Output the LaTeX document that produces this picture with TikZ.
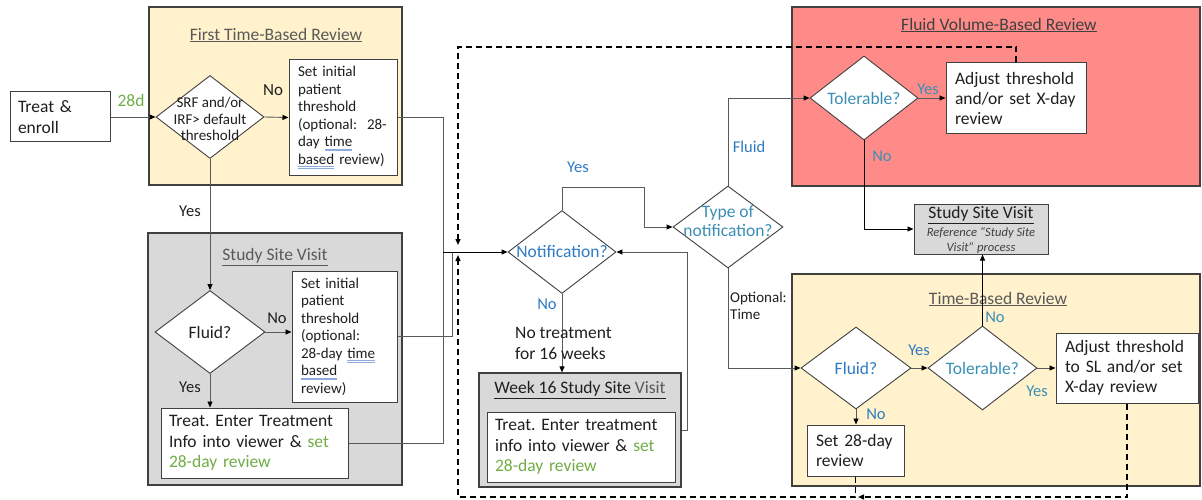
\documentclass[tikz,border=0pt]{standalone}
\usepackage{fontspec}
\setmainfont{Carlito}
\frenchspacing
\usetikzlibrary{shapes.geometric,arrows.meta,calc}
\definecolor{pyel}{HTML}{FFF2CC}
\definecolor{pred}{HTML}{FF8B88}
\definecolor{pgray}{HTML}{D9D9D9}
\definecolor{ttlc}{HTML}{595959}
\definecolor{bord}{HTML}{404040}
\definecolor{grn}{HTML}{70AD47}
\definecolor{blu}{HTML}{2E7BC4}
\definecolor{tealc}{HTML}{3A8FB5}
\definecolor{txt}{HTML}{1F1F1F}
\definecolor{ulb}{HTML}{8FAADC}
\definecolor{lc}{HTML}{5A5A5A}
\newcommand\fsz[2]{\fontsize{#1pt}{#2pt}\selectfont}
\newcommand\sq[1]{\leavevmode\setbox0\hbox{#1}\rlap{\color{ulb}\rule[-2.5pt]{\wd0}{0.5pt}}\rlap{\color{ulb}\rule[-4pt]{\wd0}{0.5pt}}\box0\relax}
\begin{document}
\begin{tikzpicture}[x=1pt,y=-1pt,
  panel/.style={draw=bord, line width=1.2pt, rectangle, inner sep=0pt},
  box/.style={draw=bord, fill=white, line width=1pt, rectangle, inner sep=0pt, text=txt},
  dia/.style={diamond, draw=bord, fill=white, line width=0.9pt, inner sep=0pt},
  con/.style={draw=lc, line width=0.9pt},
  arr/.style={con, -{Triangle[length=6pt,width=5pt,color=black]}},
  dsh/.style={draw=black, line width=1.4pt, dash pattern=on 6pt off 4pt},
  dsharr/.style={dsh, -{Triangle[length=6pt,width=5pt]}},
  ttl/.style={font=\fsz{17.5}{20}, text=ttlc, inner sep=0pt},
  lbl/.style={font=\fsz{16.5}{19}, inner sep=0pt, text=txt},
  body/.style={font=\fsz{17.5}{20.3}},
  dtxt/.style={font=\fsz{17.5}{19}, align=center, inner sep=0pt},
]
\useasboundingbox (0,0) rectangle (1202,500);
% panels
\node[panel, fill=pyel, minimum width=253pt, minimum height=178pt] (p1) at (275.5,96) {};
\node[panel, fill=pgray, minimum width=254pt, minimum height=252pt] (p2) at (275,359) {};
\node[panel, fill=pgray, minimum width=202pt, minimum height=114pt] (p3) at (580,430) {};
\node[panel, fill=pred, minimum width=408pt, minimum height=179pt] (p4) at (996,96.5) {};
\node[panel, fill=pyel, minimum width=408pt, minimum height=212pt] (p5) at (996,380) {};
% titles
\node[ttl] (t1) at (276,35) {\underline{First Time-Based Review}};
\node[ttl] (t2) at (275,257) {\underline{Study Site Visit}};
\node[ttl, text=txt] (t3) at (580,390) {\underline{Week 16 Study Site {\color{ttlc}Visit}}};
\node[ttl, text=bord] (t4) at (999,25) {\underline{Fluid Volume-Based Review}};
\node[ttl] (t5) at (998,299) {\underline{Time-Based Review}};
% boxes
\node[box, body, minimum width=100pt, minimum height=50pt, text width=84pt, align=left] (treat) at (60,117) {Treat \&\\enroll};
\node[box, minimum width=108pt, minimum height=115pt, text width=90pt, align=left, font=\fsz{15}{17.5}] (b1) at (343,117.5) {Set initial\\patient\\threshold\\(optional:\ \ 28-\\day \sq{time}\\\sq{based} review)};
\node[box, minimum width=105pt, minimum height=131pt, text width=87pt, align=left, font=\fsz{15}{17.5}] (b2) at (344.5,336.5) {Set initial\\patient\\threshold\\(optional:\\28-day \sq{time}\\\sq{based}\\review)};
\node[box, body, minimum width=187pt, minimum height=70pt, text width=171pt, align=left] (b3) at (254.5,443) {Treat. Enter Treatment\\Info into viewer \& {\color{grn}set}\\{\color{grn}28-day review}};
\node[box, body, minimum width=188pt, minimum height=70pt, text width=172pt, align=left] (b4) at (581,447) {Treat. Enter treatment\\info into viewer \& {\color{grn}set}\\{\color{grn}28-day review}};
\node[box, body, minimum width=140pt, minimum height=71pt, text width=122pt, align=left] (b5) at (1016,98.5) {Adjust threshold\\and/or set X-day\\review};
\node[box, body, minimum width=142pt, minimum height=70pt, text width=124pt, align=left] (b6) at (1127,368) {Adjust threshold\\to SL and/or set\\X-day review};
\node[box, body, minimum width=97pt, minimum height=51pt, text width=79pt, align=left] (b7) at (855.5,450.5) {Set 28-day\\review};
\node[box, fill=pgray, minimum width=134pt, minimum height=50pt] (ssv) at (981,229) {};
\node[lbl, font=\fsz{17.5}{20}, text=txt] (ssvt) at (981,215) {\underline{Study Site Visit}};
\node[lbl, font=\fsz{12.6}{15}\itshape, text=bord, align=center] (ssvs) at (981,240) {Reference “Study Site\\Visit” process};
% diamonds
\node[dia, minimum width=108pt, minimum height=83pt] (d1) at (210,117) {};
\node[dtxt, font=\fsz{15}{16.5}, text=txt] (d1t) at (210,119) {SRF and/or\\IRF> default\\threshold};
\node[dia, minimum width=110pt, minimum height=83pt] (d2) at (210,332) {};
\node[dtxt, text=txt] (d2t) at (210,332) {Fluid?};
\node[dia, minimum width=108pt, minimum height=83pt] (dn) at (562,252) {};
\node[dtxt, text=blu] (dnt) at (562,252) {Notification?};
\node[dia, minimum width=110pt, minimum height=82pt] (dt) at (728,227) {};
\node[dtxt, text=tealc] (dtt) at (728,221.5) {Type of\\notification?};
\node[dia, minimum width=108pt, minimum height=84pt] (dtol1) at (864,98) {};
\node[dtxt, text=tealc] (dtol1t) at (864,98) {Tolerable?};
\node[dia, minimum width=110pt, minimum height=82pt] (dfl) at (856,368) {};
\node[dtxt, text=blu] (dflt) at (856,368) {Fluid?};
\node[dia, minimum width=109pt, minimum height=84pt] (dtol2) at (982.5,368) {};
\node[dtxt, text=tealc] (dtol2t) at (982.5,368) {Tolerable?};
% junction coordinates
\coordinate (j) at (443,252);
\coordinate (j2) at (452,252);
\coordinate (ya) at (562,187);
\coordinate (yb) at (644,187);
\coordinate (dtop) at (458,47);
\coordinate (dtip1) at (458,245);
\coordinate (dbot) at (458,497);
\coordinate (dtip2) at (458,255);
\coordinate (dmid) at (858,497);
% connectors
\draw[arr] (treat.east) -- (d1.west);
\draw[arr] (d1.east) -- (b1.west);
\draw[arr] (d1.south) -- (d2.north);
\draw[arr] (d2.east) -- (d2.east -| b2.west);
\draw[arr] (d2.south) -- (b3.north -| d2.south);
\draw[con] (b1.east) -| (j);
\draw[con] (b2.east) -| (j2);
\draw[con] (b3.east) -| (j);
\draw[arr, draw=black] (j) -- (dn.west);
\draw[arr] (dn.north) -- (ya) -- (yb) |- (dt.west);
\draw[arr] (dn.south) -- (dn.south |- p3.north);
\draw[arr] (p3.east) -- ++(6,0) |- (dn.east);
\draw[arr] (dt.north) |- (dtol1.west);
\draw[arr] (dt.south) |- (dfl.west);
\draw[arr] (dtol1.east) -- (dtol1.east -| b5.west);
\draw[arr, draw=black] (dtol1.south) |- (ssv.west);
\draw[arr] (dfl.east) -- (dtol2.west);
\draw[arr] (dtol2.east) -- (b6.west);
\draw[arr, draw=black] (dtol2.north) -- (dtol2.north |- ssv.south);
\draw[arr] (dfl.south) -- (dfl.south |- b7.north);
% dashed feedback
\draw[dsharr] (b5.north) |- (dtop) -- (dtip1);
\draw[dsharr] (b6.south) |- (dmid);
\draw[dsharr] (b7.south) |- (dbot) -- (dtip2);
% labels
\node[lbl, font=\fsz{17.5}{20}, text=grn] (l28) at (131,100) {28d};
\node[lbl, font=\fsz{17}{19}] (ln1) at (273,90) {No};
\node[lbl] (ly1) at (190,211) {Yes};
\node[lbl] (ln2) at (277,318) {No};
\node[lbl] (ly2) at (190,387) {Yes};
\node[lbl, text=blu] (ly3) at (578,167) {Yes};
\node[lbl, text=blu] (ln3) at (547,304) {No};
\node[lbl, body, align=left, anchor=west] (lnt) at (515,343.5) {No treatment\\for 16 weeks};
\node[lbl, text=blu] (lfl) at (749,147) {Fluid};
\node[lbl, font=\fsz{15}{17.5}, align=left, anchor=west] (lopt) at (730,306) {Optional:\\Time};
\node[lbl, text=tealc] (ly4) at (928,89) {Yes};
\node[lbl, text=tealc] (ln4) at (882,156) {No};
\node[lbl, text=blu] (ly5) at (919,350) {Yes};
\node[lbl, text=tealc] (ln5) at (995,317) {No};
\node[lbl, text=tealc] (ly6) at (1037,391) {Yes};
\node[lbl, text=blu] (ln6) at (876,414) {No};
\end{tikzpicture}
\end{document}
